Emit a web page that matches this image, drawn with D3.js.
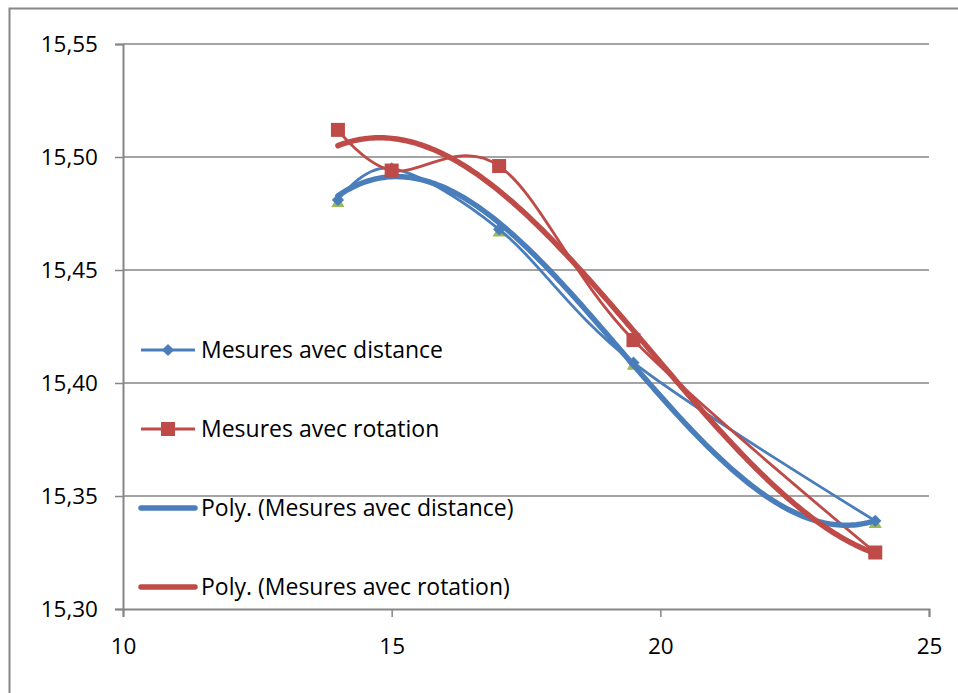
<!DOCTYPE html>
<html>
<head>
<meta charset="utf-8">
<script src="https://cdn.jsdelivr.net/npm/d3@7"></script>
<style>
body { margin: 0; background: #fff; }
text { font-family: "Open Sans", "Liberation Sans", sans-serif; fill: #000; }
</style>
</head>
<body>
<svg id="chart" width="958" height="693"></svg>
<script>
// x values (distance) and measured values
var xDist = [14, 15, 17, 19.5, 24];
var yDist = [15.481, 15.495, 15.468, 15.409, 15.339];
var xRot = [14, 15, 17, 19.5, 24];
var yRot = [15.512, 15.494, 15.496, 15.419, 15.325];
// hidden third series (only triangle markers visible under the diamonds)
var xTri = [14, 17, 19.5, 24];
var yTri = [15.480, 15.467, 15.408, 15.338];

var xTicks = [10, 15, 20, 25];
var yTicks = [15.30, 15.35, 15.40, 15.45, 15.50, 15.55];
var legendLabels = ["Mesures avec distance", "Mesures avec rotation",
	"Poly. (Mesures avec distance)", "Poly. (Mesures avec rotation)"];

var blue = "#4a7ebb", red = "#be4b48", green = "#9bbb59", grid = "#868686";

var svg = d3.select("#chart");
var x = d3.scaleLinear().domain([10, 25]).range([123, 929]);
var y = d3.scaleLinear().domain([15.30, 15.55]).range([609, 44]);

// outer frame
svg.append("rect")
	.attr("x", 9.5).attr("y", 8.5)
	.attr("width", 960).attr("height", 700)
	.attr("fill", "none").attr("stroke", grid).attr("stroke-width", 2);

// gridlines
svg.append("g").selectAll("line")
	.data(yTicks.slice(1))
	.enter().append("line")
	.attr("x1", x(10)).attr("x2", x(25))
	.attr("y1", function(d) { return y(d); })
	.attr("y2", function(d) { return y(d); })
	.attr("stroke", grid).attr("stroke-width", 1.5);

var fmt = function(d) { return d3.format(".2f")(d).replace(".", ","); };

var yAxis = svg.append("g")
	.attr("transform", "translate(" + x(10) + ",0)")
	.call(d3.axisLeft(y).tickValues(yTicks).tickFormat(fmt).tickSize(8).tickPadding(17));
var xAxis = svg.append("g")
	.attr("transform", "translate(0," + y(15.30) + ")")
	.call(d3.axisBottom(x).tickValues(xTicks).tickFormat(d3.format("d")).tickSize(8).tickPadding(21));
[yAxis, xAxis].forEach(function(a) {
	a.selectAll("path,line").attr("stroke", grid).attr("stroke-width", 1.5);
	a.select(".domain").attr("stroke-width", 2);
	a.selectAll("text").attr("font-size", 22.5).attr("font-family", "Open Sans").attr("fill", "#000");
});

// cubic least squares fit (like Excel's polynomial trendline, order 3)
function polyFit(xs, ys, deg) {
	var n = deg + 1, A = [], i, j, k;
	for (i = 0; i < n; i++) {
		A.push([]);
		for (j = 0; j <= n; j++) A[i].push(0);
	}
	xs.forEach(function(xv, p) {
		for (i = 0; i < n; i++) {
			for (j = 0; j < n; j++) A[i][j] += Math.pow(xv, i + j);
			A[i][n] += ys[p] * Math.pow(xv, i);
		}
	});
	for (i = 0; i < n; i++) {
		var piv = i;
		for (k = i + 1; k < n; k++) if (Math.abs(A[k][i]) > Math.abs(A[piv][i])) piv = k;
		var tmp = A[i]; A[i] = A[piv]; A[piv] = tmp;
		for (k = i + 1; k < n; k++) {
			var f = A[k][i] / A[i][i];
			for (j = i; j <= n; j++) A[k][j] -= f * A[i][j];
		}
	}
	var c = new Array(n);
	for (i = n - 1; i >= 0; i--) {
		var s = A[i][n];
		for (j = i + 1; j < n; j++) s -= A[i][j] * c[j];
		c[i] = s / A[i][i];
	}
	return c;
}
function trend(xs, ys) {
	var x0 = 18;
	var c = polyFit(xs.map(function(v) { return v - x0; }), ys, 3);
	return d3.range(xs[0], xs[xs.length - 1] + 0.001, 0.05).map(function(v) {
		var t = v - x0, s = 0;
		for (var i = c.length - 1; i >= 0; i--) s = s * t + c[i];
		return [v, s];
	});
}

var smooth = d3.line()
	.x(function(d) { return x(d[0]); })
	.y(function(d) { return y(d[1]); })
	.curve(d3.curveCardinal.tension(0));
var plain = d3.line()
	.x(function(d) { return x(d[0]); })
	.y(function(d) { return y(d[1]); });

var distPts = d3.zip(xDist, yDist), rotPts = d3.zip(xRot, yRot), triPts = d3.zip(xTri, yTri);

// green triangles underneath
svg.append("g").selectAll("path")
	.data(triPts).enter().append("path")
	.attr("transform", function(d) { return "translate(" + x(d[0]) + "," + (y(d[1]) + 1) + ")"; })
	.attr("d", d3.symbol().type(d3.symbolTriangle).size(75))
	.attr("fill", green);

// data series
svg.append("path").attr("d", smooth(distPts))
	.attr("fill", "none").attr("stroke", blue).attr("stroke-width", 2.8);
svg.append("path").attr("d", smooth(rotPts))
	.attr("fill", "none").attr("stroke", red).attr("stroke-width", 2.8);

// trendlines
svg.append("path").attr("d", plain(trend(xDist, yDist)))
	.attr("fill", "none").attr("stroke", blue).attr("stroke-width", 5.5).attr("stroke-linecap", "round");
svg.append("path").attr("d", plain(trend(xRot, yRot)))
	.attr("fill", "none").attr("stroke", red).attr("stroke-width", 5.5).attr("stroke-linecap", "round");

// markers
svg.append("g").selectAll("path")
	.data(distPts).enter().append("path")
	.attr("transform", function(d) { return "translate(" + x(d[0]) + "," + y(d[1]) + ") rotate(45)"; })
	.attr("d", d3.symbol().type(d3.symbolSquare).size(75))
	.attr("fill", blue);
svg.append("g").selectAll("rect")
	.data(rotPts).enter().append("rect")
	.attr("x", function(d) { return x(d[0]) - 7; })
	.attr("y", function(d) { return y(d[1]) - 7; })
	.attr("width", 14).attr("height", 14)
	.attr("fill", red);

// legend
var legend = svg.append("g").attr("transform", "translate(141,350)");
var entries = legend.selectAll("g")
	.data(legendLabels).enter().append("g")
	.attr("transform", function(d, i) { return "translate(0," + (i * 79) + ")"; });
entries.append("line")
	.attr("x1", 0).attr("x2", 54).attr("y1", 0).attr("y2", 0)
	.attr("stroke", function(d, i) { return i % 2 ? red : blue; })
	.attr("stroke-width", function(d, i) { return i < 2 ? 2.8 : 5.5; })
	.attr("stroke-linecap", function(d, i) { return i < 2 ? "butt" : "round"; });
entries.filter(function(d, i) { return i === 0; }).append("path")
	.attr("transform", "translate(27,0) rotate(45)")
	.attr("d", d3.symbol().type(d3.symbolSquare).size(75))
	.attr("fill", blue);
entries.filter(function(d, i) { return i === 1; }).append("rect")
	.attr("x", 20).attr("y", -7).attr("width", 14).attr("height", 14)
	.attr("fill", red);
entries.append("text")
	.attr("x", 60).attr("y", 0).attr("dy", "0.35em")
	.attr("font-size", 23)
	.text(function(d) { return d; });
</script>
</body>
</html>
